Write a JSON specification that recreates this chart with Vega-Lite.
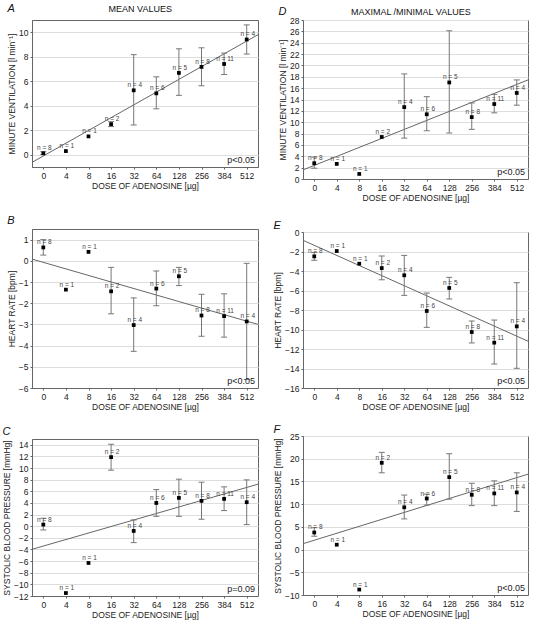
{
"$schema":"https://vega.github.io/schema/vega-lite/v6.json",
"padding":{"left":2,"right":2,"top":2,"bottom":0},
"spacing":14,
"datasets":{
"pts":[
{"panel":"A","pos":0,"dose":"0","mean":0.12,"lo":0.02,"hi":0.25,"lab":"n = 8"},
{"panel":"A","pos":1,"dose":"4","mean":0.3,"lo":null,"hi":null,"lab":"n = 1"},
{"panel":"A","pos":2,"dose":"8","mean":1.5,"lo":null,"hi":null,"lab":"n = 1"},
{"panel":"A","pos":3,"dose":"16","mean":2.5,"lo":2.3,"hi":2.7,"lab":"n = 2"},
{"panel":"A","pos":4,"dose":"32","mean":5.26,"lo":2.43,"hi":8.17,"lab":"n = 4"},
{"panel":"A","pos":5,"dose":"64","mean":5.01,"lo":3.75,"hi":6.36,"lab":"n = 6"},
{"panel":"A","pos":6,"dose":"128","mean":6.68,"lo":4.85,"hi":8.65,"lab":"n = 5"},
{"panel":"A","pos":7,"dose":"256","mean":7.17,"lo":5.63,"hi":8.73,"lab":"n = 8"},
{"panel":"A","pos":8,"dose":"384","mean":7.41,"lo":6.55,"hi":8.3,"lab":"n = 11"},
{"panel":"A","pos":9,"dose":"512","mean":9.41,"lo":8.22,"hi":10.6,"lab":"n = 4"},
{"panel":"B","pos":0,"dose":"0","mean":0.63,"lo":0.27,"hi":1.0,"lab":"n = 8"},
{"panel":"B","pos":1,"dose":"4","mean":-1.36,"lo":null,"hi":null,"lab":"n = 1"},
{"panel":"B","pos":2,"dose":"8","mean":0.42,"lo":null,"hi":null,"lab":"n = 1"},
{"panel":"B","pos":3,"dose":"16","mean":-1.44,"lo":-2.5,"hi":-0.31,"lab":"n = 2"},
{"panel":"B","pos":4,"dose":"32","mean":-3.03,"lo":-4.27,"hi":-1.75,"lab":"n = 4"},
{"panel":"B","pos":5,"dose":"64","mean":-1.31,"lo":-2.12,"hi":-0.48,"lab":"n = 6"},
{"panel":"B","pos":6,"dose":"128","mean":-0.73,"lo":-1.17,"hi":-0.31,"lab":"n = 5"},
{"panel":"B","pos":7,"dose":"256","mean":-2.58,"lo":-3.56,"hi":-1.58,"lab":"n = 8"},
{"panel":"B","pos":8,"dose":"384","mean":-2.61,"lo":-3.6,"hi":-1.56,"lab":"n = 11"},
{"panel":"B","pos":9,"dose":"512","mean":-2.86,"lo":-5.6,"hi":-0.12,"lab":"n = 4"},
{"panel":"C","pos":0,"dose":"0","mean":0.28,"lo":-0.64,"hi":1.37,"lab":"n = 8"},
{"panel":"C","pos":1,"dose":"4","mean":-11.49,"lo":null,"hi":null,"lab":"n = 1"},
{"panel":"C","pos":2,"dose":"8","mean":-6.32,"lo":null,"hi":null,"lab":"n = 1"},
{"panel":"C","pos":3,"dose":"16","mean":11.88,"lo":9.64,"hi":14.1,"lab":"n = 2"},
{"panel":"C","pos":4,"dose":"32","mean":-0.81,"lo":-2.82,"hi":1.08,"lab":"n = 4"},
{"panel":"C","pos":5,"dose":"64","mean":4.0,"lo":1.7,"hi":6.3,"lab":"n = 6"},
{"panel":"C","pos":6,"dose":"128","mean":4.87,"lo":1.7,"hi":8.09,"lab":"n = 5"},
{"panel":"C","pos":7,"dose":"256","mean":4.36,"lo":1.2,"hi":7.57,"lab":"n = 8"},
{"panel":"C","pos":8,"dose":"384","mean":4.7,"lo":2.69,"hi":6.77,"lab":"n = 11"},
{"panel":"C","pos":9,"dose":"512","mean":4.13,"lo":0.28,"hi":7.97,"lab":"n = 4"},
{"panel":"D","pos":0,"dose":"0","mean":2.78,"lo":1.9,"hi":3.85,"lab":"n = 8"},
{"panel":"D","pos":1,"dose":"4","mean":2.66,"lo":null,"hi":null,"lab":"n = 1"},
{"panel":"D","pos":2,"dose":"8","mean":0.89,"lo":null,"hi":null,"lab":"n = 1"},
{"panel":"D","pos":3,"dose":"16","mean":7.4,"lo":null,"hi":null,"lab":"n = 2"},
{"panel":"D","pos":4,"dose":"32","mean":12.66,"lo":7.2,"hi":18.5,"lab":"n = 4"},
{"panel":"D","pos":5,"dose":"64","mean":11.4,"lo":8.5,"hi":14.5,"lab":"n = 6"},
{"panel":"D","pos":6,"dose":"128","mean":17.0,"lo":8.1,"hi":26.1,"lab":"n = 5"},
{"panel":"D","pos":7,"dose":"256","mean":10.9,"lo":8.75,"hi":13.4,"lab":"n = 8"},
{"panel":"D","pos":8,"dose":"384","mean":13.2,"lo":11.65,"hi":14.9,"lab":"n = 11"},
{"panel":"D","pos":9,"dose":"512","mean":15.15,"lo":13.0,"hi":17.45,"lab":"n = 4"},
{"panel":"E","pos":0,"dose":"0","mean":-2.5,"lo":-2.9,"hi":-2.1,"lab":"n = 8"},
{"panel":"E","pos":1,"dose":"4","mean":-1.95,"lo":null,"hi":null,"lab":"n = 1"},
{"panel":"E","pos":2,"dose":"8","mean":-3.25,"lo":null,"hi":null,"lab":"n = 1"},
{"panel":"E","pos":3,"dose":"16","mean":-3.7,"lo":-4.9,"hi":-2.46,"lab":"n = 2"},
{"panel":"E","pos":4,"dose":"32","mean":-4.44,"lo":-6.5,"hi":-2.4,"lab":"n = 4"},
{"panel":"E","pos":5,"dose":"64","mean":-8.1,"lo":-9.78,"hi":-6.26,"lab":"n = 6"},
{"panel":"E","pos":6,"dose":"128","mean":-5.74,"lo":-6.87,"hi":-4.65,"lab":"n = 5"},
{"panel":"E","pos":7,"dose":"256","mean":-10.26,"lo":-11.38,"hi":-9.13,"lab":"n = 8"},
{"panel":"E","pos":8,"dose":"384","mean":-11.35,"lo":-13.54,"hi":-9.03,"lab":"n = 11"},
{"panel":"E","pos":9,"dose":"512","mean":-9.68,"lo":-13.98,"hi":-5.2,"lab":"n = 4"},
{"panel":"F","pos":0,"dose":"0","mean":3.76,"lo":2.94,"hi":4.8,"lab":"n = 8"},
{"panel":"F","pos":1,"dose":"4","mean":1.07,"lo":null,"hi":null,"lab":"n = 1"},
{"panel":"F","pos":2,"dose":"8","mean":-8.8,"lo":null,"hi":null,"lab":"n = 1"},
{"panel":"F","pos":3,"dose":"16","mean":19.1,"lo":16.9,"hi":21.4,"lab":"n = 2"},
{"panel":"F","pos":4,"dose":"32","mean":9.3,"lo":6.75,"hi":12.0,"lab":"n = 4"},
{"panel":"F","pos":5,"dose":"64","mean":11.24,"lo":9.8,"hi":12.2,"lab":"n = 6"},
{"panel":"F","pos":6,"dose":"128","mean":15.95,"lo":11.1,"hi":21.1,"lab":"n = 5"},
{"panel":"F","pos":7,"dose":"256","mean":12.06,"lo":9.67,"hi":14.6,"lab":"n = 8"},
{"panel":"F","pos":8,"dose":"384","mean":12.36,"lo":9.67,"hi":15.13,"lab":"n = 11"},
{"panel":"F","pos":9,"dose":"512","mean":12.58,"lo":8.4,"hi":16.9,"lab":"n = 4"}
],
"reg":[
{"panel":"A","pos":-0.5,"val":-0.62},{"panel":"A","pos":9.5,"val":9.8},
{"panel":"B","pos":-0.5,"val":0.08},{"panel":"B","pos":9.5,"val":-3.0},
{"panel":"C","pos":-0.5,"val":-3.97},{"panel":"C","pos":9.5,"val":7.23},
{"panel":"D","pos":-0.5,"val":1.6},{"panel":"D","pos":9.5,"val":17.45},
{"panel":"E","pos":-0.5,"val":-0.85},{"panel":"E","pos":9.5,"val":-11.2},
{"panel":"F","pos":-0.5,"val":1.29},{"panel":"F","pos":9.5,"val":16.6}
],
"ptxt":[
{"panel":"A","p":"p<0.05"},{"panel":"B","p":"p<0.05"},{"panel":"C","p":"p=0.09"},
{"panel":"D","p":"p<0.05"},{"panel":"E","p":"p<0.05"},{"panel":"F","p":"p<0.05"}
]
},
"hconcat":[
{"title":{"text":"MEAN VALUES","anchor":"middle","fontStyle":"normal","fontSize":9,"dy":13,"dx":10},
 "spacing":23,
 "vconcat":[
 {"title":{"text":"A","offset":6},"width":226,"height":147,
  "layer":[
   {"data":{"name":"reg"},"transform":[{"filter":"datum.panel==='A'"}],"mark":{"type":"line","color":"#666","strokeWidth":1,"clip":true},
    "encoding":{"x":{"field":"pos","type":"quantitative","scale":{"domain":[-0.5,9.5],"nice":false,"zero":false},"axis":{"title":"DOSE OF ADENOSINE [µg]","values":[0,1,2,3,4,5,6,7,8,9],"grid":false,"labelExpr":"['0','4','8','16','32','64','128','256','384','512'][datum.value]"}},
     "y":{"field":"val","type":"quantitative","scale":{"domain":[-1,11],"nice":false,"zero":false},"axis":{"title":"MINUTE VENTILATION [l min⁻¹]","values":[0,2,4,6,8,10],"format":"d"}}}},
   {"data":{"name":"pts"},"transform":[{"filter":"datum.panel==='A'"}],"mark":{"type":"rule","color":"#777","strokeWidth":1},"encoding":{"x":{"field":"pos","type":"quantitative"},"y":{"field":"lo","type":"quantitative"},"y2":{"field":"hi"}}},
   {"data":{"name":"pts"},"transform":[{"filter":"datum.panel==='A'"}],"mark":{"type":"tick","orient":"horizontal","color":"#777","size":6,"thickness":1,"opacity":1},"encoding":{"x":{"field":"pos","type":"quantitative"},"y":{"field":"lo","type":"quantitative"}}},
   {"data":{"name":"pts"},"transform":[{"filter":"datum.panel==='A'"}],"mark":{"type":"tick","orient":"horizontal","color":"#777","size":6,"thickness":1,"opacity":1},"encoding":{"x":{"field":"pos","type":"quantitative"},"y":{"field":"hi","type":"quantitative"}}},
   {"data":{"name":"pts"},"transform":[{"filter":"datum.panel==='A'"}],"mark":{"type":"point","shape":"square","filled":true,"color":"#000","size":14,"opacity":1},"encoding":{"x":{"field":"pos","type":"quantitative"},"y":{"field":"mean","type":"quantitative"}}},
   {"data":{"name":"pts"},"transform":[{"filter":"datum.panel==='A'"}],"mark":{"type":"text","fontSize":6.5,"fill":"#444","baseline":"middle","dy":-5,"dx":1},"encoding":{"x":{"field":"pos","type":"quantitative"},"y":{"field":"mean","type":"quantitative"},"text":{"field":"lab"}}},
   {"data":{"name":"ptxt"},"transform":[{"filter":"datum.panel==='A'"}],"mark":{"type":"text","align":"right","baseline":"bottom","fontSize":9,"fill":"#222","dx":-3,"dy":-2},"encoding":{"x":{"datum":9.5,"type":"quantitative"},"y":{"datum":-1,"type":"quantitative"},"text":{"field":"p"}}}
  ]},
 {"spacing":13,
  "vconcat":[
 {"title":{"text":"B","offset":3},"width":226,"height":159,
  "layer":[
   {"data":{"name":"reg"},"transform":[{"filter":"datum.panel==='B'"}],"mark":{"type":"line","color":"#666","strokeWidth":1,"clip":true},
    "encoding":{"x":{"field":"pos","type":"quantitative","scale":{"domain":[-0.5,9.5],"nice":false,"zero":false},"axis":{"title":"DOSE OF ADENOSINE [µg]","values":[0,1,2,3,4,5,6,7,8,9],"grid":false,"labelExpr":"['0','4','8','16','32','64','128','256','384','512'][datum.value]"}},
     "y":{"field":"val","type":"quantitative","scale":{"domain":[-6,1.5],"nice":false,"zero":false},"axis":{"title":"HEART RATE [bpm]","values":[-6,-5,-4,-3,-2,-1,0,1],"format":"d"}}}},
   {"data":{"name":"pts"},"transform":[{"filter":"datum.panel==='B'"}],"mark":{"type":"rule","color":"#777","strokeWidth":1},"encoding":{"x":{"field":"pos","type":"quantitative"},"y":{"field":"lo","type":"quantitative"},"y2":{"field":"hi"}}},
   {"data":{"name":"pts"},"transform":[{"filter":"datum.panel==='B'"}],"mark":{"type":"tick","orient":"horizontal","color":"#777","size":6,"thickness":1,"opacity":1},"encoding":{"x":{"field":"pos","type":"quantitative"},"y":{"field":"lo","type":"quantitative"}}},
   {"data":{"name":"pts"},"transform":[{"filter":"datum.panel==='B'"}],"mark":{"type":"tick","orient":"horizontal","color":"#777","size":6,"thickness":1,"opacity":1},"encoding":{"x":{"field":"pos","type":"quantitative"},"y":{"field":"hi","type":"quantitative"}}},
   {"data":{"name":"pts"},"transform":[{"filter":"datum.panel==='B'"}],"mark":{"type":"point","shape":"square","filled":true,"color":"#000","size":14,"opacity":1},"encoding":{"x":{"field":"pos","type":"quantitative"},"y":{"field":"mean","type":"quantitative"}}},
   {"data":{"name":"pts"},"transform":[{"filter":"datum.panel==='B'"}],"mark":{"type":"text","fontSize":6.5,"fill":"#444","baseline":"middle","dy":-5,"dx":1},"encoding":{"x":{"field":"pos","type":"quantitative"},"y":{"field":"mean","type":"quantitative"},"text":{"field":"lab"}}},
   {"data":{"name":"ptxt"},"transform":[{"filter":"datum.panel==='B'"}],"mark":{"type":"text","align":"right","baseline":"bottom","fontSize":9,"fill":"#222","dx":-3,"dy":-2},"encoding":{"x":{"datum":9.5,"type":"quantitative"},"y":{"datum":-6,"type":"quantitative"},"text":{"field":"p"}}}
  ]},
 {"title":{"text":"C"},"width":226,"height":157,
  "layer":[
   {"data":{"name":"reg"},"transform":[{"filter":"datum.panel==='C'"}],"mark":{"type":"line","color":"#666","strokeWidth":1,"clip":true},
    "encoding":{"x":{"field":"pos","type":"quantitative","scale":{"domain":[-0.5,9.5],"nice":false,"zero":false},"axis":{"title":"DOSE OF ADENOSINE [µg]","values":[0,1,2,3,4,5,6,7,8,9],"grid":false,"labelExpr":"['0','4','8','16','32','64','128','256','384','512'][datum.value]"}},
     "y":{"field":"val","type":"quantitative","scale":{"domain":[-12,15],"nice":false,"zero":false},"axis":{"title":"SYSTOLIC BLOOD PRESSURE [mmHg]","values":[-12,-10,-8,-6,-4,-2,0,2,4,6,8,10,12,14],"format":"d"}}}},
   {"data":{"name":"pts"},"transform":[{"filter":"datum.panel==='C'"}],"mark":{"type":"rule","color":"#777","strokeWidth":1},"encoding":{"x":{"field":"pos","type":"quantitative"},"y":{"field":"lo","type":"quantitative"},"y2":{"field":"hi"}}},
   {"data":{"name":"pts"},"transform":[{"filter":"datum.panel==='C'"}],"mark":{"type":"tick","orient":"horizontal","color":"#777","size":6,"thickness":1,"opacity":1},"encoding":{"x":{"field":"pos","type":"quantitative"},"y":{"field":"lo","type":"quantitative"}}},
   {"data":{"name":"pts"},"transform":[{"filter":"datum.panel==='C'"}],"mark":{"type":"tick","orient":"horizontal","color":"#777","size":6,"thickness":1,"opacity":1},"encoding":{"x":{"field":"pos","type":"quantitative"},"y":{"field":"hi","type":"quantitative"}}},
   {"data":{"name":"pts"},"transform":[{"filter":"datum.panel==='C'"}],"mark":{"type":"point","shape":"square","filled":true,"color":"#000","size":14,"opacity":1},"encoding":{"x":{"field":"pos","type":"quantitative"},"y":{"field":"mean","type":"quantitative"}}},
   {"data":{"name":"pts"},"transform":[{"filter":"datum.panel==='C'"}],"mark":{"type":"text","fontSize":6.5,"fill":"#444","baseline":"middle","dy":-5,"dx":1},"encoding":{"x":{"field":"pos","type":"quantitative"},"y":{"field":"mean","type":"quantitative"},"text":{"field":"lab"}}},
   {"data":{"name":"ptxt"},"transform":[{"filter":"datum.panel==='C'"}],"mark":{"type":"text","align":"right","baseline":"bottom","fontSize":9,"fill":"#222","dx":-3,"dy":-2},"encoding":{"x":{"datum":9.5,"type":"quantitative"},"y":{"datum":-12,"type":"quantitative"},"text":{"field":"p"}}}
  ]}
 ]}
 ]},
{"title":{"text":"MAXIMAL /MINIMAL VALUES","anchor":"middle","fontStyle":"normal","fontSize":9,"dy":13,"dx":10},
 "spacing":16,
 "vconcat":[
 {"title":{"text":"D","offset":-1},"width":225,"height":159,
  "layer":[
   {"data":{"name":"reg"},"transform":[{"filter":"datum.panel==='D'"}],"mark":{"type":"line","color":"#666","strokeWidth":1,"clip":true},
    "encoding":{"x":{"field":"pos","type":"quantitative","scale":{"domain":[-0.5,9.5],"nice":false,"zero":false},"axis":{"title":"DOSE OF ADENOSINE [µg]","values":[0,1,2,3,4,5,6,7,8,9],"grid":false,"labelExpr":"['0','4','8','16','32','64','128','256','384','512'][datum.value]"}},
     "y":{"field":"val","type":"quantitative","scale":{"domain":[0,28],"nice":false,"zero":false},"axis":{"title":"MINUTE VENTILATION [l min⁻¹]","values":[0,2,4,6,8,10,12,14,16,18,20,22,24,26,28],"format":"d"}}}},
   {"data":{"name":"pts"},"transform":[{"filter":"datum.panel==='D'"}],"mark":{"type":"rule","color":"#777","strokeWidth":1},"encoding":{"x":{"field":"pos","type":"quantitative"},"y":{"field":"lo","type":"quantitative"},"y2":{"field":"hi"}}},
   {"data":{"name":"pts"},"transform":[{"filter":"datum.panel==='D'"}],"mark":{"type":"tick","orient":"horizontal","color":"#777","size":6,"thickness":1,"opacity":1},"encoding":{"x":{"field":"pos","type":"quantitative"},"y":{"field":"lo","type":"quantitative"}}},
   {"data":{"name":"pts"},"transform":[{"filter":"datum.panel==='D'"}],"mark":{"type":"tick","orient":"horizontal","color":"#777","size":6,"thickness":1,"opacity":1},"encoding":{"x":{"field":"pos","type":"quantitative"},"y":{"field":"hi","type":"quantitative"}}},
   {"data":{"name":"pts"},"transform":[{"filter":"datum.panel==='D'"}],"mark":{"type":"point","shape":"square","filled":true,"color":"#000","size":14,"opacity":1},"encoding":{"x":{"field":"pos","type":"quantitative"},"y":{"field":"mean","type":"quantitative"}}},
   {"data":{"name":"pts"},"transform":[{"filter":"datum.panel==='D'"}],"mark":{"type":"text","fontSize":6.5,"fill":"#444","baseline":"middle","dy":-5,"dx":1},"encoding":{"x":{"field":"pos","type":"quantitative"},"y":{"field":"mean","type":"quantitative"},"text":{"field":"lab"}}},
   {"data":{"name":"ptxt"},"transform":[{"filter":"datum.panel==='D'"}],"mark":{"type":"text","align":"right","baseline":"bottom","fontSize":9,"fill":"#222","dx":-3,"dy":-2},"encoding":{"x":{"datum":9.5,"type":"quantitative"},"y":{"datum":0,"type":"quantitative"},"text":{"field":"p"}}}
  ]},
 {"spacing":11,
  "vconcat":[
 {"title":{"text":"E","offset":-3},"width":225,"height":156,
  "layer":[
   {"data":{"name":"reg"},"transform":[{"filter":"datum.panel==='E'"}],"mark":{"type":"line","color":"#666","strokeWidth":1,"clip":true},
    "encoding":{"x":{"field":"pos","type":"quantitative","scale":{"domain":[-0.5,9.5],"nice":false,"zero":false},"axis":{"title":"DOSE OF ADENOSINE [µg]","values":[0,1,2,3,4,5,6,7,8,9],"grid":false,"labelExpr":"['0','4','8','16','32','64','128','256','384','512'][datum.value]"}},
     "y":{"field":"val","type":"quantitative","scale":{"domain":[-16,0],"nice":false,"zero":false},"axis":{"title":"HEART RATE [bpm]","values":[-16,-14,-12,-10,-8,-6,-4,-2,0],"format":"d"}}}},
   {"data":{"name":"pts"},"transform":[{"filter":"datum.panel==='E'"}],"mark":{"type":"rule","color":"#777","strokeWidth":1},"encoding":{"x":{"field":"pos","type":"quantitative"},"y":{"field":"lo","type":"quantitative"},"y2":{"field":"hi"}}},
   {"data":{"name":"pts"},"transform":[{"filter":"datum.panel==='E'"}],"mark":{"type":"tick","orient":"horizontal","color":"#777","size":6,"thickness":1,"opacity":1},"encoding":{"x":{"field":"pos","type":"quantitative"},"y":{"field":"lo","type":"quantitative"}}},
   {"data":{"name":"pts"},"transform":[{"filter":"datum.panel==='E'"}],"mark":{"type":"tick","orient":"horizontal","color":"#777","size":6,"thickness":1,"opacity":1},"encoding":{"x":{"field":"pos","type":"quantitative"},"y":{"field":"hi","type":"quantitative"}}},
   {"data":{"name":"pts"},"transform":[{"filter":"datum.panel==='E'"}],"mark":{"type":"point","shape":"square","filled":true,"color":"#000","size":14,"opacity":1},"encoding":{"x":{"field":"pos","type":"quantitative"},"y":{"field":"mean","type":"quantitative"}}},
   {"data":{"name":"pts"},"transform":[{"filter":"datum.panel==='E'"}],"mark":{"type":"text","fontSize":6.5,"fill":"#444","baseline":"middle","dy":-5,"dx":1},"encoding":{"x":{"field":"pos","type":"quantitative"},"y":{"field":"mean","type":"quantitative"},"text":{"field":"lab"}}},
   {"data":{"name":"ptxt"},"transform":[{"filter":"datum.panel==='E'"}],"mark":{"type":"text","align":"right","baseline":"bottom","fontSize":9,"fill":"#222","dx":-3,"dy":-2},"encoding":{"x":{"datum":9.5,"type":"quantitative"},"y":{"datum":-16,"type":"quantitative"},"text":{"field":"p"}}}
  ]},
 {"title":{"text":"F","offset":-3},"width":225,"height":159,
  "layer":[
   {"data":{"name":"reg"},"transform":[{"filter":"datum.panel==='F'"}],"mark":{"type":"line","color":"#666","strokeWidth":1,"clip":true},
    "encoding":{"x":{"field":"pos","type":"quantitative","scale":{"domain":[-0.5,9.5],"nice":false,"zero":false},"axis":{"title":"DOSE OF ADENOSINE [µg]","values":[0,1,2,3,4,5,6,7,8,9],"grid":false,"labelExpr":"['0','4','8','16','32','64','128','256','384','512'][datum.value]"}},
     "y":{"field":"val","type":"quantitative","scale":{"domain":[-10,25],"nice":false,"zero":false},"axis":{"title":"SYSTOLIC BLOOD PRESSURE [mmHg]","values":[-10,-5,0,5,10,15,20,25],"format":"d"}}}},
   {"data":{"name":"pts"},"transform":[{"filter":"datum.panel==='F'"}],"mark":{"type":"rule","color":"#777","strokeWidth":1},"encoding":{"x":{"field":"pos","type":"quantitative"},"y":{"field":"lo","type":"quantitative"},"y2":{"field":"hi"}}},
   {"data":{"name":"pts"},"transform":[{"filter":"datum.panel==='F'"}],"mark":{"type":"tick","orient":"horizontal","color":"#777","size":6,"thickness":1,"opacity":1},"encoding":{"x":{"field":"pos","type":"quantitative"},"y":{"field":"lo","type":"quantitative"}}},
   {"data":{"name":"pts"},"transform":[{"filter":"datum.panel==='F'"}],"mark":{"type":"tick","orient":"horizontal","color":"#777","size":6,"thickness":1,"opacity":1},"encoding":{"x":{"field":"pos","type":"quantitative"},"y":{"field":"hi","type":"quantitative"}}},
   {"data":{"name":"pts"},"transform":[{"filter":"datum.panel==='F'"}],"mark":{"type":"point","shape":"square","filled":true,"color":"#000","size":14,"opacity":1},"encoding":{"x":{"field":"pos","type":"quantitative"},"y":{"field":"mean","type":"quantitative"}}},
   {"data":{"name":"pts"},"transform":[{"filter":"datum.panel==='F'"}],"mark":{"type":"text","fontSize":6.5,"fill":"#444","baseline":"middle","dy":-5,"dx":1},"encoding":{"x":{"field":"pos","type":"quantitative"},"y":{"field":"mean","type":"quantitative"},"text":{"field":"lab"}}},
   {"data":{"name":"ptxt"},"transform":[{"filter":"datum.panel==='F'"}],"mark":{"type":"text","align":"right","baseline":"bottom","fontSize":9,"fill":"#222","dx":-3,"dy":-2},"encoding":{"x":{"datum":9.5,"type":"quantitative"},"y":{"datum":-10,"type":"quantitative"},"text":{"field":"p"}}}
  ]}
 ]}
 ]}
],
"config":{
 "font":"Liberation Sans",
 "view":{"stroke":"#666","strokeWidth":1},
 "title":{"anchor":"start","frame":"bounds","fontSize":11,"fontStyle":"italic","fontWeight":"normal","font":"Liberation Sans","color":"#111","offset":2},
 "axis":{"labelFont":"Liberation Sans","titleFont":"Liberation Sans","labelFontSize":8.5,"titleFontSize":8.5,"titleFontWeight":"normal","labelColor":"#222","titleColor":"#222","domainColor":"#666","tickColor":"#666","tickSize":2,"labelPadding":2,"titlePadding":2,"labelOverlap":false,"labelBound":false,"tickCount":40,"gridColor":"#dddddd","gridWidth":1},
 "text":{"font":"Liberation Sans"}
}
}
